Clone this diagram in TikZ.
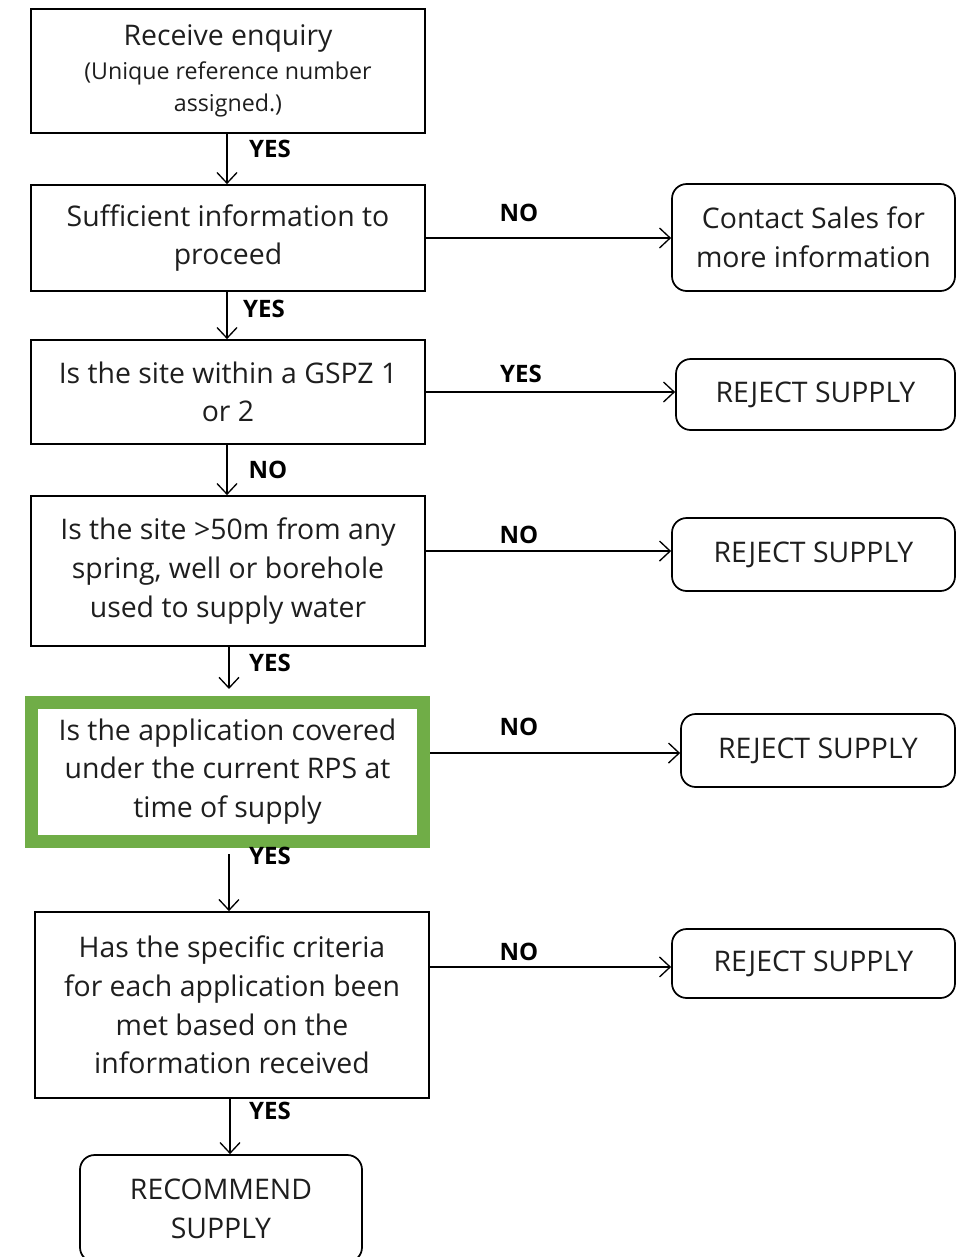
\documentclass[tikz,border=0pt]{standalone}
\usepackage{fontspec}
\setmainfont{Open Sans}
\usetikzlibrary{arrows.meta,calc}
\definecolor{txt}{RGB}{30,30,30}
\definecolor{grn}{RGB}{112,173,71}
\begin{document}
\begin{tikzpicture}[x=0.75pt,y=-0.75pt,
  box/.style={draw=black,line width=1.3pt,rectangle,align=center,text=txt,
    font=\fontsize{21.3}{29}\selectfont,inner sep=0pt},
  rbox/.style={box,rounded corners=11pt},
  lab/.style={font=\fontsize{18}{20}\selectfont\bfseries,text=black,inner sep=0pt},
  arr/.style={draw=black,line width=1pt,-{Straight Barb[length=8pt,width=15pt,line width=1pt]}}]
\useasboundingbox (0,0) rectangle (957,1257);
\node[box,minimum width=394*0.75pt,minimum height=124*0.75pt] (b1) at (228,71)
  {Receive enquiry\\[-4pt]{\fontsize{17.4}{22.5}\selectfont (Unique reference number}\\[-5pt]{\fontsize{17.4}{22.5}\selectfont assigned.)}};
\node[box,minimum width=394*0.75pt,minimum height=106*0.75pt] (b2) at (228,238)
  {Sufficient information to\\proceed};
\node[rbox,minimum width=283*0.75pt,minimum height=107*0.75pt] (c) at (813.5,237.5)
  {Contact Sales for\\more information};
\node[box,minimum width=394*0.75pt,minimum height=104*0.75pt] (b3) at (228,392)
  {Is the site within a GSPZ 1\\or 2};
\node[rbox,minimum width=279*0.75pt,minimum height=71*0.75pt] (r1) at (815.5,394.5)
  {REJECT SUPPLY};
\node[box,minimum width=394*0.75pt,minimum height=150*0.75pt] (b4) at (228,571)
  {Is the site >50m from any\\spring, well or borehole\\used to supply water};
\node[rbox,minimum width=283*0.75pt,minimum height=73*0.75pt] (r2) at (813.5,554.5)
  {REJECT SUPPLY};
\node[box,draw=grn,line width=9.75pt,minimum width=392*0.75pt,minimum height=139*0.75pt] (b5) at (227.5,771.5)
  {Is the application covered\\under the current RPS at\\time of supply};
\node[rbox,minimum width=274*0.75pt,minimum height=73*0.75pt] (r3) at (818,750.5)
  {REJECT SUPPLY};
\node[box,minimum width=394*0.75pt,minimum height=186*0.75pt] (b6) at (232,1005)
  {Has the specific criteria\\for each application been\\met based on the\\information received};
\node[rbox,minimum width=283*0.75pt,minimum height=69*0.75pt] (r4) at (813.5,963.5)
  {REJECT SUPPLY};
\node[rbox,minimum width=282*0.75pt,minimum height=107*0.75pt] (rec) at (221,1208.5)
  {RECOMMEND\\SUPPLY};
% vertical connectors
\draw[arr] ([xshift=-0.75pt]b1.south) -- ([xshift=-0.75pt]b1.south |- b2.north);
\draw[arr] ([xshift=-0.75pt]b2.south) -- ([xshift=-0.75pt]b2.south |- b3.north);
\draw[arr] ([xshift=-0.75pt]b3.south) -- ([xshift=-0.75pt]b3.south |- b4.north);
\draw[arr,shorten >=4.9pt] ([xshift=0.75pt]b4.south) -- ([xshift=0.75pt]b4.south |- b5.north);
\draw[arr,shorten <=4.9pt] ([xshift=1.1pt]b5.south) -- ([xshift=1.1pt]b5.south |- b6.north);
\draw[arr] ([xshift=-1.5pt]b6.south) -- ([xshift=-1.5pt]b6.south |- rec.north);
% horizontal connectors
\draw[arr] (b2.east) -- (b2.east -| c.west);
\draw[arr] (b3.east) -- (b3.east -| r1.west);
\draw[arr] ([yshift=2.6pt]r2.west -| b4.east) -- ([yshift=2.6pt]r2.west);
\draw[arr] ([yshift=-1.9pt]r3.west -| b5.east) -- ([yshift=-1.9pt]r3.west);
\draw[arr] ([yshift=-2.6pt]r4.west -| b6.east) -- ([yshift=-2.6pt]r4.west);
% labels
\node[lab] (l1) at (270,149) {YES};
\node[lab] (l2) at (264,309) {YES};
\node[lab] (l3) at (268,470) {NO};
\node[lab] (l4) at (270,663) {YES};
\node[lab] (l5) at (270,856) {YES};
\node[lab] (l6) at (270,1111) {YES};
\node[lab] (n1) at (519,213) {NO};
\node[lab] (n2) at (521,374) {YES};
\node[lab] (n3) at (519,535) {NO};
\node[lab] (n4) at (519,727) {NO};
\node[lab] (n5) at (519,952) {NO};
\end{tikzpicture}
\end{document}
